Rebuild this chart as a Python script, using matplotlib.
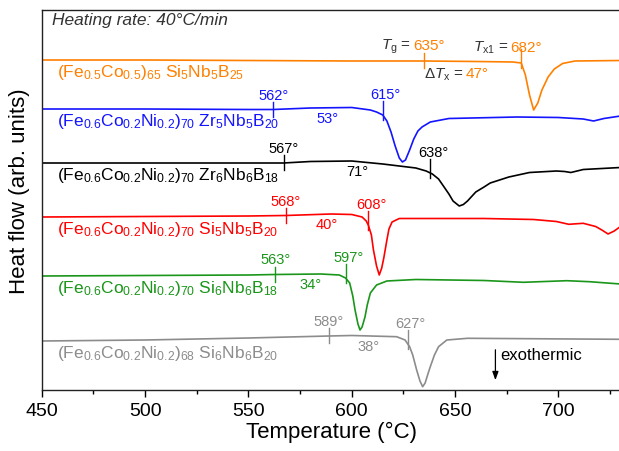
"""
DSC traces of the FeCo(Ni) glassy alloys, heating rate 40 K/min
"""

import numpy as np
import matplotlib
matplotlib.use("Agg")
import matplotlib.pyplot as plt
from matplotlib import rc

rc('font', **{'family': 'sans-serif', 'sans-serif': ['Liberation Sans', 'DejaVu Sans']})
rc('mathtext', fontset='custom', rm='Liberation Sans', it='Liberation Sans:italic')

# ---- curves: temperature (C) and heat flow (arb. units) -------------------------
fc55_T = [450, 500, 550, 600, 635, 660, 678, 682, 684, 686, 688, 690, 692, 695, 698, 702, 708, 730]
fc55_hf = [330, 330, 329.5, 329, 329, 328.5, 328, 327, 315, 295, 280, 287, 300, 313, 321, 326.5, 329, 329.5]

zr5_T = [450, 500, 550, 562, 580, 600, 609, 612, 615, 617, 619, 621, 623, 624.5, 626, 628, 630, 632, 634,
         638, 647, 680, 700, 712, 717, 722, 730]
zr5_hf = [281, 281, 280.5, 280.5, 282, 282.5, 280, 278, 275, 269, 258, 244, 232, 228, 230, 240, 251, 259, 263,
          268, 271.5, 273, 272.5, 271, 269, 271.5, 274]

zr6_T = [450, 500, 550, 567, 580, 600, 615, 631, 636, 639, 642, 644, 647, 649, 652, 654, 656, 660, 664, 667,
         676, 686, 699, 703, 706, 709, 712, 730]
zr6_hf = [227, 227, 227, 227, 228.5, 229, 226, 222, 219, 216, 211, 205, 196, 189, 184, 185.5, 189, 198, 203, 207,
          213, 217.5, 219, 218.5, 217.5, 219, 220.5, 222.5]

si5_T = [450, 500, 550, 568, 590, 600, 605, 607, 608, 609.5, 610.5, 612, 613.3, 614.5, 615.5, 617, 618, 619.5,
         623, 664, 688, 699, 705, 712, 718, 721, 724, 727, 730]
si5_hf = [173, 173.5, 174, 174.5, 176, 175.5, 173, 169, 165, 155, 140, 124, 115, 122, 132, 150, 161, 168,
          171.5, 171.5, 170.5, 168.5, 165.7, 166.7, 163.5, 160, 156, 159, 163.5]

si6_T = [450, 500, 550, 563, 585, 594, 597, 599, 600.5, 601.6, 603, 604, 605, 606.4, 607.5, 609, 612, 617,
         631, 664, 683, 704, 715, 730]
si6_hf = [114, 114.5, 115, 115.5, 116, 115, 112, 107, 94, 80, 66, 60, 63, 73, 85, 97, 105, 109,
          110.5, 109.5, 107.7, 109.3, 108.3, 106]

ni68_T = [450, 500, 550, 589, 600, 621.7, 625.8, 628, 629.5, 631.4, 633, 634.3, 635.5, 637, 638, 640, 642,
          646, 656, 730]
ni68_hf = [49, 50, 52, 54, 54.5, 53.3, 50, 43.3, 35, 20, 9, 3.3, 7, 17, 23.3, 35, 43.3,
           50, 51.7, 50.7]

# glass transition and first crystallisation onsets (C)
Tg = [635, 562, 567, 568, 563, 589]
Tx = [682, 615, 638, 608, 597, 627]

names = [
	r"$\mathregular{(Fe_{0.5}Co_{0.5})_{65}\ Si_{5}Nb_{5}B_{25}}$",
	r"$\mathregular{(Fe_{0.6}Co_{0.2}Ni_{0.2})_{70}\ Zr_{5}Nb_{5}B_{20}}$",
	r"$\mathregular{(Fe_{0.6}Co_{0.2}Ni_{0.2})_{70}\ Zr_{6}Nb_{6}B_{18}}$",
	r"$\mathregular{(Fe_{0.6}Co_{0.2}Ni_{0.2})_{70}\ Si_{5}Nb_{5}B_{20}}$",
	r"$\mathregular{(Fe_{0.6}Co_{0.2}Ni_{0.2})_{70}\ Si_{6}Nb_{6}B_{18}}$",
	r"$\mathregular{(Fe_{0.6}Co_{0.2}Ni_{0.2})_{68}\ Si_{6}Nb_{6}B_{20}}$",
]
colors = ["#FF8000", "#1414FF", "#000000", "#FF0000", "#1A961A", "#8C8C8C"]

curves = [(fc55_T, fc55_hf), (zr5_T, zr5_hf), (zr6_T, zr6_hf),
          (si5_T, si5_hf), (si6_T, si6_hf), (ni68_T, ni68_hf)]

exo_T = 669.5

# ---------------------------------------------------------------------------------
fig = plt.figure(figsize=(6.19, 4.51), dpi=100)
ax = fig.add_axes([41.7 / 619, 1 - 390 / 451, 280 * 2.067 / 619, 380 / 451])

dark = "#333333"

for i, ((T, hf), name, col) in enumerate(zip(curves, names, colors)):
	T = np.asarray(T, float)
	hf = np.asarray(hf, float)
	ax.plot(T, hf, color=col, lw=1.2, solid_joinstyle="round")

	# compound name under the baseline
	ax.text(457.5, hf[0] - 17, name, color=col, fontsize=12.5, ha="left", va="baseline")

	# onset marks
	yg = np.interp(Tg[i], T, hf)
	yx = np.interp(Tx[i], T, hf)
	ax.plot([Tg[i], Tg[i]], [yg - 7, yg + 8], color=col, lw=1.0)
	ax.plot([Tx[i], Tx[i]], [yx - 5, yx + 14], color=col, lw=1.0)

	dT = Tx[i] - Tg[i]
	if i == 0:
		# first trace gets the full legend of the symbols
		for t0, y0, sym in [(Tg[i], yg + 8, r"$T_\mathregular{g}$ ="), (Tx[i], yx + 8, r"$T_\mathregular{x1}$ =")]:
			ax.annotate(u"%d\u00b0" % t0, xy=(t0, y0), xytext=(-11, 3), textcoords="offset pixels",
			            color=col, fontsize=11, ha="left", va="baseline")
			ax.annotate(sym, xy=(t0, y0), xytext=(-13, 3), textcoords="offset pixels",
			            color=dark, fontsize=11, ha="right", va="baseline")
		tm = 0.5 * (Tg[i] + Tx[i])
		ym = np.interp(tm, T, hf)
		ax.annotate(u"%d\u00b0" % dT, xy=(tm, ym), xytext=(-7, -17), textcoords="offset pixels",
		            color=col, fontsize=11, ha="left", va="baseline")
		ax.annotate(r"$\Delta T_\mathregular{x}$ =", xy=(tm, ym), xytext=(-9, -17), textcoords="offset pixels",
		            color=dark, fontsize=11, ha="right", va="baseline")
	else:
		ax.annotate(u"%d\u00b0" % Tg[i], xy=(Tg[i], yg + 8), xytext=(0, 2), textcoords="offset pixels",
		            color=col, fontsize=10.5, ha="center", va="baseline")
		ax.annotate(u"%d\u00b0" % Tx[i], xy=(Tx[i], yx + 14), xytext=(3, 2), textcoords="offset pixels",
		            color=col, fontsize=10.5, ha="center", va="baseline")
		tm = 0.5 * (Tg[i] + Tx[i])
		ym = np.interp(tm, T, hf)
		ax.text(tm, ym - 11, u"%d\u00b0" % dT, color=col, fontsize=10.5, ha="center", va="center")

ax.text(455, 370, u"Heating rate: 40\u00b0C/min", fontsize=12.5, style="italic", color=dark,
        ha="left", va="center")

ax.annotate("", xy=(exo_T, 7), xytext=(exo_T, 43),
            arrowprops=dict(arrowstyle="-|>,head_length=0.5,head_width=0.18", color="black", lw=0.9))
ax.text(exo_T + 2.2, 35, "exothermic", fontsize=12, ha="left", va="center")

ax.set_xlim(450, 730)
ax.set_ylim(0, 380)
ax.set_xticks(np.arange(450, 731, 50))
ax.set_xticks(np.arange(475, 731, 50), minor=True)
ax.set_yticks([])
ax.tick_params(axis="x", which="major", direction="out", length=5, width=1, labelsize=14, pad=4)
ax.tick_params(axis="x", which="minor", direction="out", length=3, width=1)
for s in ["left", "bottom", "top"]:
	ax.spines[s].set_linewidth(1.0)
	ax.spines[s].set_color("#222222")
ax.spines["right"].set_visible(False)

ax.set_xlabel(u"Temperature (\u00b0C)", fontsize=16, labelpad=2)
fig.text(20 / 619, 1 - 191 / 451, "Heat flow (arb. units)", fontsize=16, rotation=90,
         ha="center", va="center")

fig.savefig("out.png", dpi=100)
